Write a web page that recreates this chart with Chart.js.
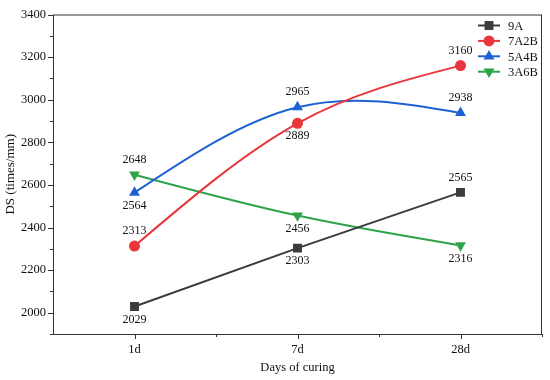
<!DOCTYPE html>
<html>
<head>
<meta charset="utf-8">
<script src="https://cdn.jsdelivr.net/npm/chart.js@4/dist/chart.umd.min.js"></script>
<style>
  html, body { margin: 0; padding: 0; background: #fff; }
  #wrap { width: 550px; height: 380px; }
</style>
</head>
<body>
<div id="wrap"><canvas id="myChart"></canvas></div>
<script>
const labels = ["1d", "7d", "28d"];

const values9A = [2029, 2303, 2565];
const values7A2B = [2313, 2889, 3160];
const values5A4B = [2564, 2965, 2938];
const values3A6B = [2648, 2456, 2316];

// where the number sits next to each point: 1 = above, -1 = below
const labelSide9A = [-1, -1, 1];
const labelSide7A2B = [1, -1, 1];
const labelSide5A4B = [-1, 1, 1];
const labelSide3A6B = [1, -1, -1];

const serif = "'Liberation Serif', 'DejaVu Serif', serif";
const axisColor = "#333333";

const data = {
    labels,
    datasets: [
        {
            label: "9A",
            data: values9A,
            sides: labelSide9A,
            borderColor: "#3c3c3c",
            backgroundColor: "#3c3c3c",
            pointStyle: "rect",
            pointRadius: 6.3,
        },
        {
            label: "7A2B",
            data: values7A2B,
            sides: labelSide7A2B,
            borderColor: "#e8363c",
            backgroundColor: "#e8363c",
            pointStyle: "circle",
            pointRadius: 5.5,
        },
        {
            label: "5A4B",
            data: values5A4B,
            sides: labelSide5A4B,
            borderColor: "#1c62d2",
            backgroundColor: "#1c62d2",
            pointStyle: "triangle",
            pointRadius: 6.3,
        },
        {
            label: "3A6B",
            data: values3A6B,
            sides: labelSide3A6B,
            borderColor: "#2ea44a",
            backgroundColor: "#2ea44a",
            pointStyle: "triangle",
            pointRotation: 180,
            pointRadius: 6.3,
        }
    ]
};

// natural cubic spline through the plotted points (like Origin's spline connect)
const spline = {
    id: "spline",
    beforeDatasetsDraw(chart) {
        chart.data.datasets.forEach((ds, di) => {
            const meta = chart.getDatasetMeta(di);
            const pts = meta.data;
            const n = pts.length;
            if (n < 3) return;
            const h = [], d = [];
            for (let i = 0; i < n - 1; i++) {
                h.push(pts[i + 1].x - pts[i].x);
                d.push((pts[i + 1].y - pts[i].y) / h[i]);
            }
            // solve for second derivatives, M0 = Mn-1 = 0
            const M = new Array(n).fill(0);
            const a = [], b = [], c = [], r = [];
            for (let i = 1; i < n - 1; i++) {
                a.push(h[i - 1]);
                b.push(2 * (h[i - 1] + h[i]));
                c.push(h[i]);
                r.push(6 * (d[i] - d[i - 1]));
            }
            const m = b.length;
            for (let i = 1; i < m; i++) {
                const w = a[i] / b[i - 1];
                b[i] -= w * c[i - 1];
                r[i] -= w * r[i - 1];
            }
            for (let i = m - 1; i >= 0; i--) {
                M[i + 1] = (r[i] - (i < m - 1 ? c[i] * M[i + 2] : 0)) / b[i];
            }
            const s = [];
            for (let i = 0; i < n; i++) {
                if (i < n - 1) s.push(d[i] - h[i] * (2 * M[i] + M[i + 1]) / 6);
                else s.push(d[i - 1] + h[i - 1] * (M[i - 1] + 2 * M[i]) / 6);
            }
            for (let i = 0; i < n; i++) {
                const p = pts[i];
                if (i > 0) {
                    p.cp1x = p.x - h[i - 1] / 3;
                    p.cp1y = p.y - s[i] * h[i - 1] / 3;
                } else { p.cp1x = p.x; p.cp1y = p.y; }
                if (i < n - 1) {
                    p.cp2x = p.x + h[i] / 3;
                    p.cp2y = p.y + s[i] * h[i] / 3;
                } else { p.cp2x = p.x; p.cp2y = p.y; }
            }
            meta.dataset._pointsUpdated = true;
        });
    }
};

// frame, outward ticks (major + minor), value labels and the inset legend
const decor = {
    id: "decor",
    afterDatasetsDraw(chart) {
        const c = chart.ctx;
        const a = chart.chartArea;
        const xs = chart.scales.x;
        const ys = chart.scales.y;

        c.save();
        c.strokeStyle = axisColor;
        c.lineWidth = 1;
        c.strokeRect(a.left + 0.5, a.top + 0.5, a.right - a.left - 1, a.bottom - a.top);

        c.beginPath();
        ys.ticks.forEach(t => {
            const y = Math.round(ys.getPixelForValue(t.value)) + 0.5;
            const len = t.value % 200 === 0 ? 5 : 3;
            c.moveTo(a.left, y);
            c.lineTo(a.left - len, y);
        });
        labels.forEach((l, i) => {
            const x = Math.round(xs.getPixelForValue(i)) + 0.5;
            c.moveTo(x, a.bottom);
            c.lineTo(x, a.bottom + 5);
            const xm = Math.round(xs.getPixelForValue(i + 0.5)) + 0.5;
            c.moveTo(xm, a.bottom);
            c.lineTo(xm, a.bottom + 3);
        });
        c.stroke();

        // value labels
        c.fillStyle = "#111";
        c.font = "12px " + serif;
        c.textAlign = "center";
        c.textBaseline = "middle";
        chart.data.datasets.forEach((ds, di) => {
            const meta = chart.getDatasetMeta(di);
            meta.data.forEach((pt, i) => {
                const dy = ds.sides[i] > 0 ? -15 : 13;
                c.fillText(String(ds.data[i]), pt.x, pt.y + dy);
            });
        });

        // legend inside the top-right corner
        const lx = a.right - 64;
        let ly = a.top + 11;
        c.font = "12.5px " + serif;
        c.textAlign = "left";
        chart.data.datasets.forEach(ds => {
            c.strokeStyle = ds.borderColor;
            c.fillStyle = ds.backgroundColor;
            c.lineWidth = 2;
            c.beginPath();
            c.moveTo(lx, ly);
            c.lineTo(lx + 22, ly);
            c.stroke();
            c.lineWidth = 0;
            Chart.helpers.drawPoint(c, {
                pointStyle: ds.pointStyle,
                rotation: ds.pointRotation || 0,
                radius: ds.pointRadius,
                borderWidth: 0
            }, lx + 11, ly);
            c.fillStyle = "#111";
            c.fillText(ds.label, lx + 30, ly + 1);
            ly += 15.4;
        });
        c.restore();
    }
};

const config = {
    type: "line",
    data: data,
    options: {
        responsive: true,
        maintainAspectRatio: false,
        animation: false,
        devicePixelRatio: 1,
        elements: {
            line: { borderWidth: 2, tension: 0.4 },
            point: { borderWidth: 0, hoverRadius: 6 }
        },
        layout: {
            padding: { top: 12, right: 8, left: 0, bottom: 0 }
        },
        plugins: {
            legend: { display: false },
            tooltip: { enabled: false }
        },
        scales: {
            x: {
                offset: true,
                grid: { display: false, drawTicks: false },
                border: { display: false },
                ticks: {
                    color: "#111",
                    padding: 8,
                    font: { family: serif, size: 12.5 }
                },
                title: {
                    display: true,
                    text: "Days of curing",
                    color: "#111",
                    padding: { top: 3, bottom: 5 },
                    font: { family: serif, size: 12.5 }
                },
                afterFit(scale) { scale.height = 46; }
            },
            y: {
                min: 1900,
                max: 3400,
                grid: { display: false, drawTicks: false },
                border: { display: false },
                ticks: {
                    stepSize: 100,
                    color: "#111",
                    padding: 7,
                    font: { family: serif, size: 12.5 },
                    callback: v => (v % 200 === 0 ? v : "")
                },
                title: {
                    display: true,
                    text: "DS (times/mm)",
                    color: "#111",
                    padding: { top: 3, bottom: 2 },
                    font: { family: serif, size: 13 }
                },
                afterFit(scale) { scale.width = 53; }
            }
        }
    },
    plugins: [spline, decor]
};

const ctx = document.getElementById("myChart").getContext("2d");
const myChart = new Chart(ctx, config);
</script>
</body>
</html>
